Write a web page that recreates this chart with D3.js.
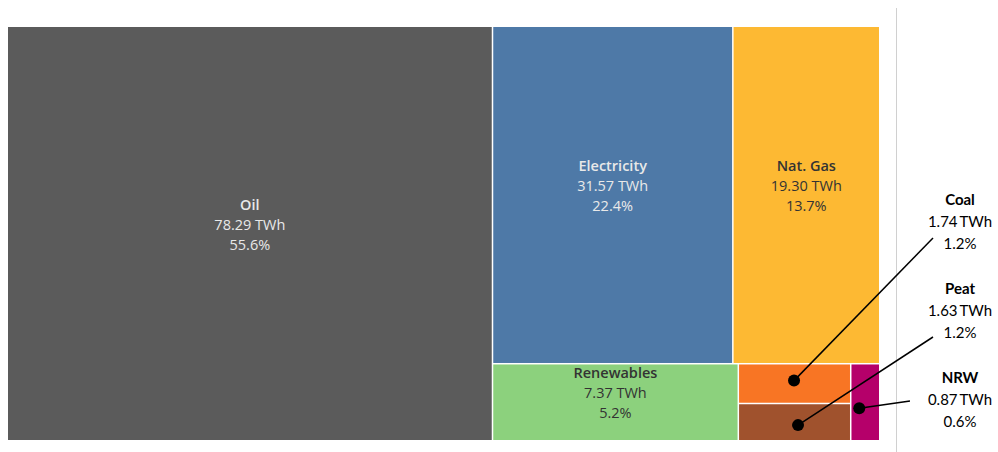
<!DOCTYPE html>
<html>
<head>
<meta charset="utf-8">
<script src="https://cdn.jsdelivr.net/npm/d3@7"></script>
<style>
  html, body { margin: 0; padding: 0; background: #fff; }
  svg { display: block; }
</style>
</head>
<body>
<svg id="chart" width="998" height="452"></svg>
<script>
const categories = ["Oil", "Electricity", "Nat. Gas", "Renewables", "Coal", "Peat", "NRW"];
const valuesTWh = [78.29, 31.57, 19.30, 7.37, 1.74, 1.63, 0.87];
const colors = ["#5b5b5b", "#4e79a7", "#fdb933", "#8cd17d", "#f87524", "#a0522d", "#b5006a"];
const insideLabelled = ["Oil", "Electricity", "Nat. Gas", "Renewables"];
const calloutCats = ["Coal", "Peat", "NRW"];

const total = d3.sum(valuesTWh);
const data = categories.map((c, i) => ({ name: c, value: valuesTWh[i], color: colors[i] }));

const svg = d3.select("#chart");

const root = d3.hierarchy({ children: data }).sum(d => d.value || 0);
d3.treemap()
  .tile(d3.treemapSquarify)
  .size([871, 413])
  .paddingInner(1.5)
  .round(false)(root);

const g = svg.append("g").attr("transform", "translate(8,27)");

// separator line at right
svg.append("line")
  .attr("x1", 896.5).attr("x2", 896.5)
  .attr("y1", 8).attr("y2", 452)
  .attr("stroke", "#d0d0d0").attr("stroke-width", 1);

const leaves = root.leaves();
g.selectAll("rect")
  .data(leaves)
  .join("rect")
  .attr("x", d => d.x0)
  .attr("y", d => d.y0)
  .attr("width", d => d.x1 - d.x0)
  .attr("height", d => d.y1 - d.y0)
  .attr("fill", d => d.data.color);

const fmtPct = v => (v / total * 100).toFixed(1) + "%";
const fmtTWh = v => v.toFixed(2) + " TWh";

// inside labels
const lightText = new Set(["Oil", "Electricity"]);
leaves.filter(d => insideLabelled.includes(d.data.name)).forEach(d => {
  const cx = (d.x0 + d.x1) / 2;
  const cy = (d.y0 + d.y1) / 2 - 9;
  const fill = lightText.has(d.data.name) ? "#e9e9e9" : "#333333";
  const t = g.append("text")
    .attr("text-anchor", "middle")
    .attr("font-family", "'Open Sans', 'Noto Sans', sans-serif")
    .attr("font-size", 14.5)
    .attr("fill", fill);
  [d.data.name, fmtTWh(d.data.value), fmtPct(d.data.value)].forEach((s, k) => {
    t.append("tspan")
      .attr("x", cx)
      .attr("y", cy + (k - 1) * 20)
      .attr("dy", "0.35em")
      .attr("font-weight", k === 0 ? 600 : 400)
      .text(s);
  });
});

// callouts
const calloutPos = {
  Coal: { dot: [-0.5, -3], lineEnd: [933, 238], labelY: 200 },
  Peat: { dot: [3.5, 3], lineEnd: [933, 337], labelY: 289 },
  NRW:  { dot: [-6, 6], lineEnd: [910, 401], labelY: 378 }
};
leaves.filter(d => calloutCats.includes(d.data.name)).forEach(d => {
  const p = calloutPos[d.data.name];
  const dx = 8 + (d.x0 + d.x1) / 2 + p.dot[0];
  const dy = 27 + (d.y0 + d.y1) / 2 + p.dot[1];
  svg.append("line")
    .attr("x1", dx).attr("y1", dy)
    .attr("x2", p.lineEnd[0]).attr("y2", p.lineEnd[1])
    .attr("stroke", "#000").attr("stroke-width", 1.5);
  svg.append("circle")
    .attr("cx", dx).attr("cy", dy).attr("r", 6)
    .attr("fill", "#000");
  const t = svg.append("text")
    .attr("text-anchor", "middle")
    .attr("font-family", "Lato, 'Liberation Sans', sans-serif")
    .attr("font-size", 15)
    .attr("fill", "#000");
  [d.data.name, fmtTWh(d.data.value), fmtPct(d.data.value)].forEach((s, k) => {
    t.append("tspan")
      .attr("x", 960)
      .attr("y", p.labelY + k * 22)
      .attr("dy", "0.35em")
      .attr("font-weight", k === 0 ? 700 : 400)
      .attr("word-spacing", k === 1 ? -1.5 : 0)
      .text(s);
  });
});
</script>
</body>
</html>
